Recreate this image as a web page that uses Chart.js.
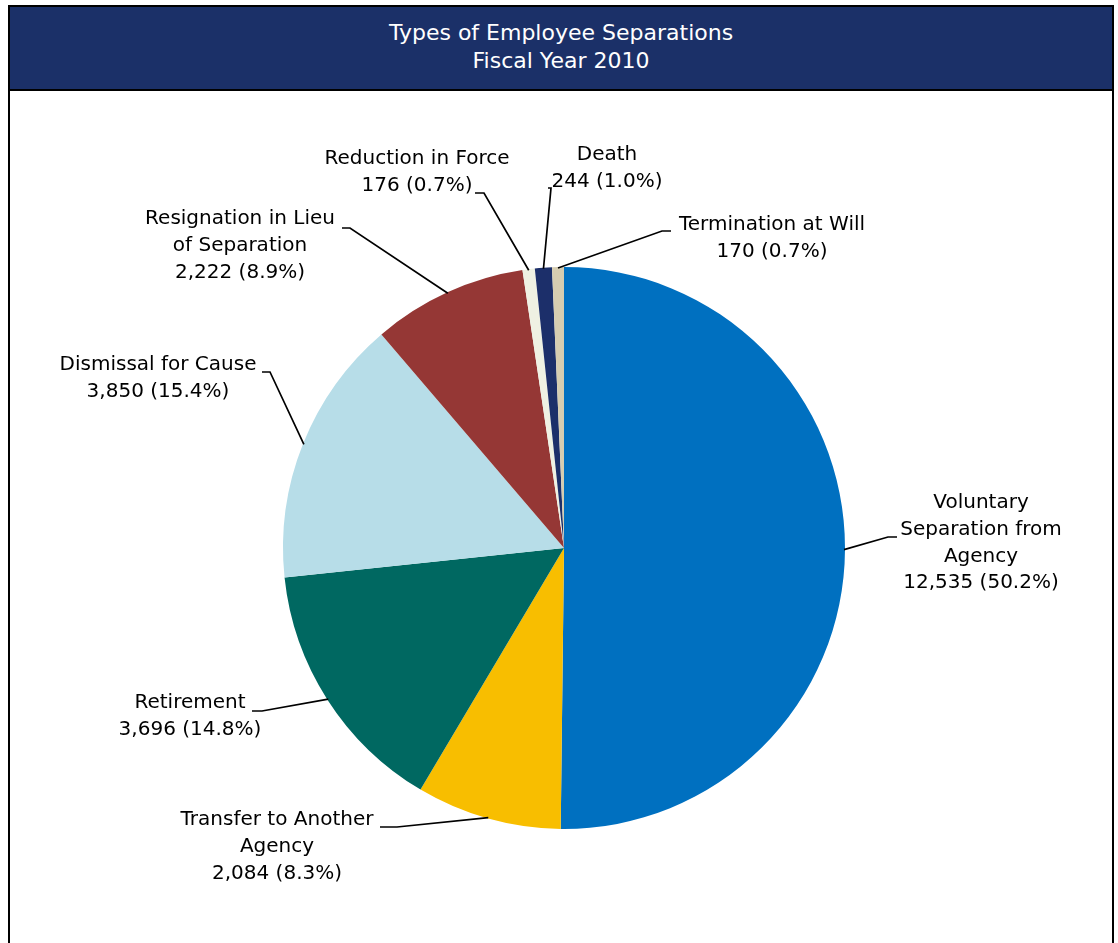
<!DOCTYPE html>
<html>
<head>
<meta charset="utf-8">
<script src="https://cdn.jsdelivr.net/npm/chart.js@4.4.1/dist/chart.umd.min.js"></script>
<style>
  html, body { margin: 0; padding: 0; background: #fff; }
  body { width: 1118px; height: 943px; position: relative; overflow: hidden; }
  .frame {
    position: absolute; left: 8px; top: 5px; width: 1102px; height: 950px;
    border: 2px solid #000; border-bottom: none;
  }
  .header {
    background: #1b3068; border-bottom: 2px solid #000;
    color: #fff; text-align: center;
    font-family: "DejaVu Sans", sans-serif; font-size: 22px; line-height: 28px;
    padding-top: 12px; box-sizing: border-box; height: 84px;
  }
  #chart { position: absolute; left: 0; top: 0; }
</style>
</head>
<body>
<div class="frame">
  <div class="header">Types of Employee Separations<br>Fiscal Year 2010</div>
</div>
<canvas id="chart" width="1118" height="943"></canvas>
<script>
document.addEventListener('DOMContentLoaded', () => {
    const categories = [
        'Voluntary Separation from Agency',
        'Transfer to Another Agency',
        'Retirement',
        'Dismissal for Cause',
        'Resignation in Lieu of Separation',
        'Reduction in Force',
        'Death',
        'Termination at Will'
    ];
    const separations = [12535, 2084, 3696, 3850, 2222, 176, 244, 170];
    const colors = ['#0070c0', '#f8be00', '#006861', '#b7dde8', '#953735', '#eff1e3', '#1c2f6a', '#d6cdb1'];

    // how each category name wraps onto lines
    const labelLines = [
        ['Voluntary', 'Separation from', 'Agency'],
        ['Transfer to Another', 'Agency'],
        ['Retirement'],
        ['Dismissal for Cause'],
        ['Resignation in Lieu', 'of Separation'],
        ['Reduction in Force'],
        ['Death'],
        ['Termination at Will']
    ];

    // label placement: text centre x, first line y, leader elbow and end
    const labelLayout = [
        { x: 981, y: 503, elbow: [888, 537], end: [897, 537] },
        { x: 277, y: 820, elbow: [397, 827], end: [380, 827] },
        { x: 190, y: 703, elbow: [262, 711], end: [252, 711] },
        { x: 158, y: 365, elbow: [270, 372], end: [262, 372] },
        { x: 240, y: 219, elbow: [350, 228], end: [342, 228] },
        { x: 417, y: 159, elbow: [484, 193], end: [475, 193] },
        { x: 607, y: 155, elbow: [551, 188], end: [548, 188] },
        { x: 772, y: 225, elbow: [662, 231], end: [671, 231] }
    ];

    const total = separations.reduce((a, b) => a + b, 0);
    const fmt = v => v.toLocaleString('en-US') + ' (' + (v / total * 100).toFixed(1) + '%)';

    const leaderLabels = {
        id: 'leaderLabels',
        afterDatasetsDraw(chart) {
            const ctx = chart.ctx;
            const arcs = chart.getDatasetMeta(0).data;
            ctx.save();
            ctx.strokeStyle = '#000';
            ctx.lineWidth = 1.7;
            ctx.fillStyle = '#000';
            ctx.font = '20px "DejaVu Sans", sans-serif';
            ctx.textAlign = 'center';
            ctx.textBaseline = 'middle';
            arcs.forEach((arc, i) => {
                const { x, y, startAngle, endAngle, outerRadius } = arc.getProps(['x', 'y', 'startAngle', 'endAngle', 'outerRadius'], true);
                const mid = (startAngle + endAngle) / 2;
                const lay = labelLayout[i];
                ctx.beginPath();
                ctx.moveTo(x + Math.cos(mid) * (outerRadius - 1), y + Math.sin(mid) * (outerRadius - 1));
                ctx.lineTo(lay.elbow[0], lay.elbow[1]);
                ctx.lineTo(lay.end[0], lay.end[1]);
                ctx.stroke();
                const lines = labelLines[i].concat([fmt(separations[i])]);
                lines.forEach((t, k) => ctx.fillText(t, lay.x, lay.y + k * 26.7));
            });
            ctx.restore();
        }
    };

    new Chart(document.getElementById('chart'), {
        type: 'pie',
        data: {
            labels: categories,
            datasets: [{
                data: separations,
                backgroundColor: colors,
                borderWidth: 0
            }]
        },
        options: {
            responsive: false,
            animation: false,
            layout: { padding: { left: 283, right: 273, top: 267, bottom: 114 } },
            plugins: {
                legend: { display: false },
                tooltip: { enabled: false }
            }
        },
        plugins: [leaderLabels]
    });
});
</script>
</body>
</html>
